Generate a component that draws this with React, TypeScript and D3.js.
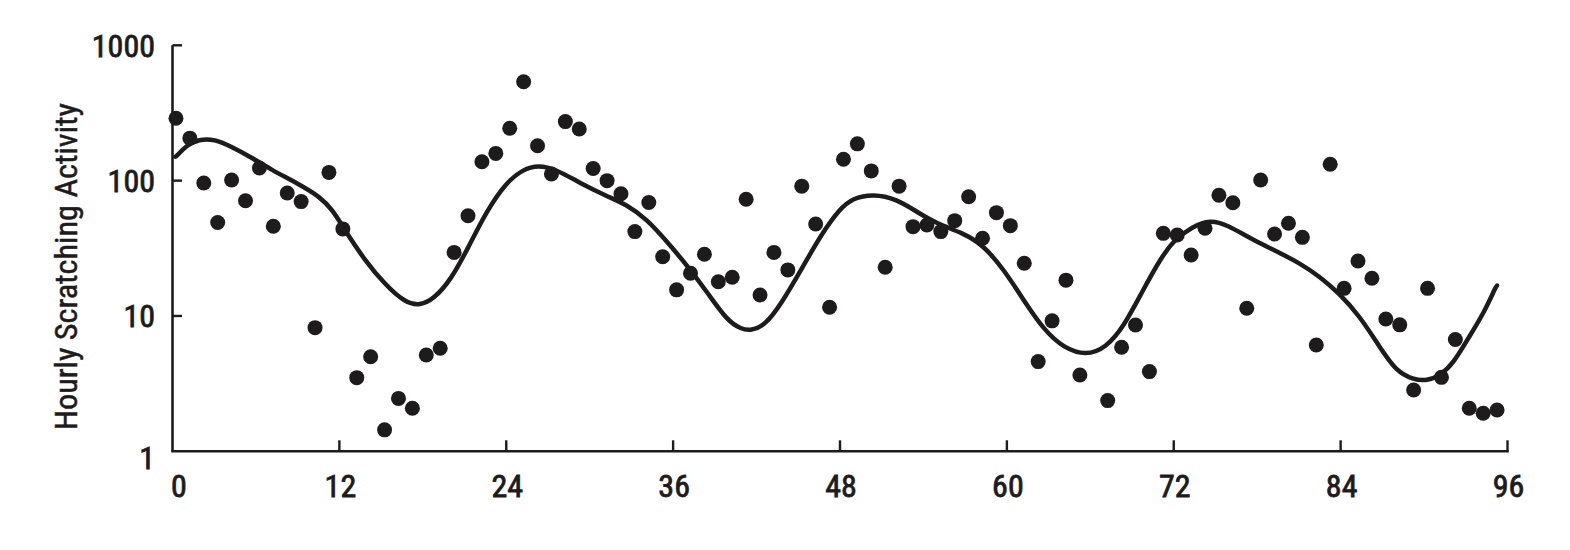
import React from 'react';
import * as d3 from 'd3';

// Hourly scratching counts, hour 0..95 (null = no plotted point)
const HOURLY_VALUES: (number | null)[] = [
  289, 206, 96, 49, 101, 71, 124, 46, 81, 70,
  8.2, 115, 44, 3.5, 5.0, 1.44, 2.46, 2.08, 5.15, 5.77,
  29.5, 55, 138, 159, 244, 538, 181, 112, 273, 241,
  123, 100, 80, 42, 69, 27.4, 15.6, 20.7, 28.6, 17.9,
  19.3, 72.8, 14.3, 29.5, 21.9, 91, 47.8, 11.6, 144, 187,
  118, 22.9, 91, 45.7, 47, 42, 50.6, 76, 37.5, 58,
  46.5, 24.5, 4.6, 9.2, 18.4, 3.66, null, 2.37, 5.87, 8.58,
  3.88, 40.8, 39.7, 28.2, 44.5, 78, 68.7, 11.4, 101, 40.3,
  48.4, 38.1, 6.1, 132, 16.0, 25.5, 19.0, 9.5, 8.6, 2.84,
  16, 3.52, 6.7, 2.08, 1.91, 2.02,
];

// Fitted curve
const CURVE_HOURS: number[] = [
  0.2, 0.25, 1.0, 1.9, 3.0, 4.3, 5.7, 7.0, 9.1, 10.6, 11.5,
  12.4, 13.8, 15.3, 16.7, 17.8, 18.8, 20.0, 21.2, 22.6, 24.0,
  25.2, 26.3, 27.6, 29.3, 31.2, 32.6, 34.1, 35.6, 37.1, 38.5,
  39.9, 40.9, 41.6, 42.6, 43.8, 45.2, 46.7, 48.0, 48.9, 50.4,
  52.1, 53.5, 54.9, 56.9, 58.3, 59.8, 61.2, 62.7, 64.1, 65.7,
  67.1, 68.4, 69.8, 71.0, 72.0, 73.4, 74.6, 75.8, 77.7, 79.2,
  81.1, 82.5, 83.9, 85.4, 86.8, 88.0, 89.2, 90.2, 91.2, 92.1,
  93.1, 94.3, 95.2, 95.25,
];
const CURVE_VALUES: number[] = [
  150, 150, 182, 202, 203, 177, 148, 122, 94, 76, 61,
  43, 26, 17, 12.6, 11.9, 13.4, 18.4, 31, 60, 97,
  121, 130, 121, 96, 77, 67, 52, 35, 23, 14.7,
  9.2, 8.0, 7.8, 8.5, 12.4, 21.9, 40.8, 62, 74, 80,
  73, 59, 48.4, 40.8, 33.4, 21.9, 13.1, 7.8, 5.8, 5.1,
  5.8, 8.3, 15.6, 26, 36.4, 46, 51.2, 47.5, 36.4, 30.7,
  24.5, 19.5, 14.7, 9.9, 5.9, 3.9, 3.4, 3.3, 3.66, 4.47,
  6.64, 10.5, 16.8, 16.8,
];

const X_TICKS: number[] = [0, 12, 24, 36, 48, 60, 72, 84, 96];
const Y_TICKS: number[] = [1, 10, 100, 1000];
const Y_TICK_LABELS: string[] = ['1', '10', '100', '1000'];
const Y_LABEL = 'Hourly Scratching Activity';

const POINT_SHIFT = 0.25; // points sit slightly right of the hour mark
const INK = '#1d1b1c';
const FONT = "'Liberation Sans Narrow', 'Arial Narrow', 'Roboto Condensed', 'DejaVu Sans Condensed', 'Liberation Sans', Arial, sans-serif";

export default function App() {
  const W = 1570;
  const H = 550;
  const x = d3.scaleLinear().domain([0, 96]).range([172.5, 1507.5]);
  const y = d3.scaleLog().domain([1, 1000]).range([451.3, 45.3]);

  const points = HOURLY_VALUES.map((v, i) => ({ h: i, v })).filter((d) => d.v != null) as { h: number; v: number }[];
  const curveData = CURVE_HOURS.map((h, i) => [h, CURVE_VALUES[i]] as [number, number]);
  const line = d3
    .line<[number, number]>()
    .x((d) => x(d[0]))
    .y((d) => y(d[1]))
    .curve(d3.curveBasis);

  const x0 = x(0);
  const yBase = y(1);
  const yTop = y(1000);

  return (
    <svg width={W} height={H} style={{ position: 'absolute', left: 0, top: 0, background: '#fff' }}>
      <rect x={0} y={0} width={W} height={H} fill="#fff" />
      {/* axes */}
      <line x1={x0} x2={x0} y1={yTop} y2={yBase} stroke={INK} strokeWidth={2.6} />
      <line x1={x0 - 1.3} x2={x(96) + 1.3} y1={yBase} y2={yBase} stroke={INK} strokeWidth={2.6} />
      {Y_TICKS.slice(1).map((t) => (
        <line key={'yt' + t} x1={x0} x2={x0 + 9.5} y1={y(t)} y2={y(t)} stroke={INK} strokeWidth={2.4} />
      ))}
      {X_TICKS.slice(1).map((t) => (
        <line key={'xt' + t} x1={x(t)} x2={x(t)} y1={yBase} y2={yBase - 11} stroke={INK} strokeWidth={2.4} />
      ))}
      {/* tick labels */}
      {Y_TICKS.map((t, i) => (
        <text
          key={'yl' + t}
          x={155}
          y={y(t) + (t === 1 ? 6 : 0)}
          dy="0.36em"
          textAnchor="end"
          fontFamily={FONT}
          fontSize={32}
          fill={INK}
          stroke={INK}
          strokeWidth={0.8}
        >
          {Y_TICK_LABELS[i]}
        </text>
      ))}
      {X_TICKS.map((t, i) => (
        <text
          key={'xl' + t}
          x={i === 0 ? x(t) - 1.5 : x(t) + 1}
          y={497}
          textAnchor={i === 0 ? 'start' : 'middle'}
          fontFamily={FONT}
          fontSize={32}
          fill={INK}
          stroke={INK}
          strokeWidth={0.8}
        >
          {t}
        </text>
      ))}
      <text
        transform={`translate(77,266.5) rotate(-90)`}
        textAnchor="middle"
        fontFamily={FONT}
        fontSize={32}
        fill={INK}
        stroke={INK}
        strokeWidth={0.5}
        textLength={327}
        lengthAdjust="spacingAndGlyphs"
      >
        {Y_LABEL}
      </text>
      {/* fitted curve */}
      <path d={line(curveData) || ''} fill="none" stroke={INK} strokeWidth={4.5} strokeLinejoin="round" strokeLinecap="round" />
      {/* points */}
      {points.map((d) => (
        <circle key={'p' + d.h} cx={x(d.h + POINT_SHIFT)} cy={y(d.v)} r={7.5} fill={INK} />
      ))}
    </svg>
  );
}
